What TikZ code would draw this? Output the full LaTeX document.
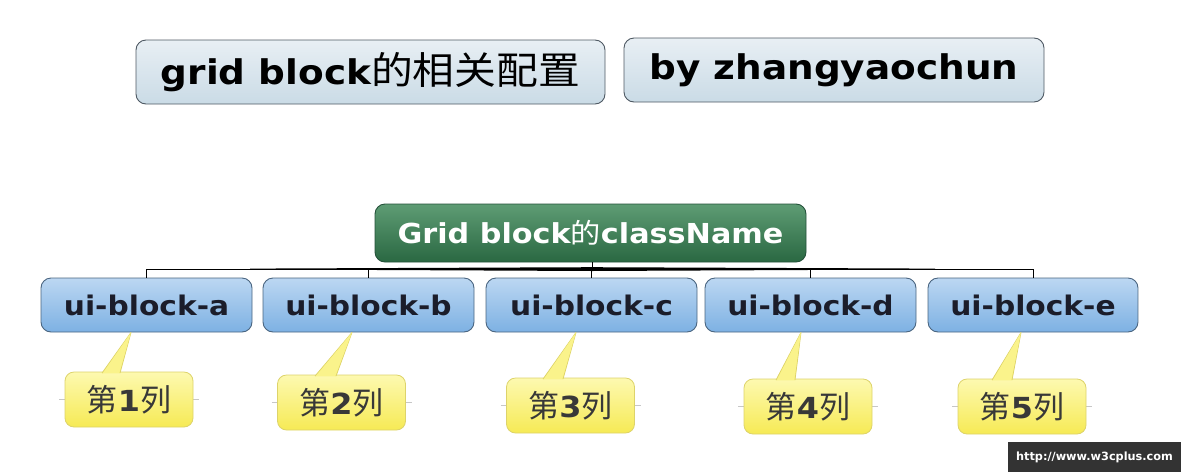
\documentclass[tikz,border=0pt]{standalone}
\usepackage{fontspec}
\setmainfont{DejaVu Sans}[FakeStretch=1.1]
\newfontfamily\cjk{Noto Sans CJK SC}[FakeStretch=1.1]
\newfontfamily\cjkn{Noto Sans CJK SC}
\newfontfamily\wmfont{DejaVu Sans}
\usetikzlibrary{calc}
\definecolor{titletop}{HTML}{E8EFF4}
\definecolor{titlebot}{HTML}{CADBE6}
\definecolor{titleedge}{HTML}{4E5963}
\definecolor{roottop}{HTML}{5E9C74}
\definecolor{rootbot}{HTML}{2A6842}
\definecolor{rootedge}{HTML}{24513A}
\definecolor{bluetop}{HTML}{BCD7F2}
\definecolor{bluebot}{HTML}{7DB1E3}
\definecolor{blueedge}{HTML}{4A6580}
\definecolor{bluetext}{HTML}{1B1D2A}
\definecolor{yeltop}{HTML}{FDF9B0}
\definecolor{yelbot}{HTML}{F6EA55}
\definecolor{yeledge}{HTML}{DDD36A}
\definecolor{yeltext}{HTML}{383838}
\definecolor{wmbg}{HTML}{333333}
\tikzset{
  titlebox/.style={rounded corners=10pt, draw=titleedge, line width=0.9pt,
    top color=titletop, bottom color=titlebot, inner sep=0pt,
    minimum height=64pt, font=\fontsize{34}{34}\selectfont\bfseries, text=black},
  rootbox/.style={rounded corners=10pt, draw=rootedge, line width=0.9pt,
    top color=roottop, bottom color=rootbot, inner sep=0pt,
    minimum width=431pt, minimum height=58pt, font=\fontsize{27.5}{28}\selectfont\bfseries, text=white},
  blockbox/.style={rounded corners=10pt, draw=blueedge, line width=0.9pt,
    top color=bluetop, bottom color=bluebot, inner sep=0pt,
    minimum width=211pt, minimum height=54pt, font=\fontsize{27}{27}\selectfont\bfseries, text=bluetext},
  callout/.style={rounded corners=9pt, draw=yeledge, line width=0.8pt,
    top color=yeltop, bottom color=yelbot, inner sep=0pt,
    minimum width=128pt, minimum height=55pt, font=\fontsize{29}{29}\selectfont, text=yeltext},
  pointer/.style={fill=yelbot!70!yeltop, draw=yeledge, line width=0.8pt, line join=round},
  branch/.style={draw=black, line width=0.9pt},
  guide/.style={draw=black!22, line width=0.7pt},
}
\newcommand{\cn}[1]{{\cjkn\fontsize{31}{30}\selectfont #1}}
\begin{document}
\begin{tikzpicture}[x=1pt,y=-1pt]
\useasboundingbox (0,0) rectangle (1181,472);

% title boxes
\node[titlebox, minimum width=469pt] (t1) at (370.5,72) {grid block{\cjk\fontsize{38}{38}\selectfont\mdseries 的相关配置}};
\node[titlebox, minimum width=420pt] (t2) at (834,70) {by zhangyaochun};

% root
\node[rootbox] (root) at (590.5,233) {Grid block{\cjk\mdseries 的}className};

% blocks
\node[blockbox] (a) at (146.5,305) {ui-block-a};
\node[blockbox] (b) at (368.5,305) {ui-block-b};
\node[blockbox] (c) at (591.5,305) {ui-block-c};
\node[blockbox] (d) at (810.5,305) {ui-block-d};
\node[blockbox, minimum width=210pt] (e) at (1033,305) {ui-block-e};

% connectors
\coordinate (bus) at (592,269);
\draw[branch] (root.south -| bus) -- (bus);
\draw[branch] (bus) -| (a.north);
\draw[branch] (bus) -| (b.north);
\draw[branch] (bus) -| (c.north);
\draw[branch] (bus) -| (d.north);
\draw[branch] (bus) -| (e.north);
\fill[black] (250,268.6) -- (592,267.2) -- (935,268.6) -- (935,269.4) -- (592,271) -- (250,269.4) -- cycle;

% callout guide lines
\foreach \x/\y in {129/399.5, 341.5/402.5, 570.5/405.5, 808/406.5, 1022/406.5}{
  \draw[guide] (\x-70,\y) -- (\x+70,\y);
}

% callouts
\node[callout] (c1) at (129,399.5) {\cn{第}\textbf{1}\cn{列}};
\node[callout] (c2) at (341.5,402.5) {\cn{第}\textbf{2}\cn{列}};
\node[callout] (c3) at (570.5,405.5) {\cn{第}\textbf{3}\cn{列}};
\node[callout] (c4) at (808,406.5) {\cn{第}\textbf{4}\cn{列}};
\node[callout] (c5) at (1022,406.5) {\cn{第}\textbf{5}\cn{列}};

% pointers
\path[pointer] ($(102,0 |- c1.north)+(0,1.5)$) -- (131,0 |- a.south) -- ($(120,0 |- c1.north)+(0,1.5)$);
\fill[yeltop!60!yelbot] ($(102.8,0 |- c1.north)+(0,1.6)$) -- (131,0 |- a.south) -- ($(119.2,0 |- c1.north)+(0,1.6)$) -- cycle;
\path[pointer] ($(315,0 |- c2.north)+(0,1.5)$) -- (352,0 |- b.south) -- ($(336,0 |- c2.north)+(0,1.5)$);
\fill[yeltop!60!yelbot] ($(315.8,0 |- c2.north)+(0,1.6)$) -- (352,0 |- b.south) -- ($(335.2,0 |- c2.north)+(0,1.6)$) -- cycle;
\path[pointer] ($(543,0 |- c3.north)+(0,1.5)$) -- (576,0 |- c.south) -- ($(563,0 |- c3.north)+(0,1.5)$);
\fill[yeltop!60!yelbot] ($(543.8,0 |- c3.north)+(0,1.6)$) -- (576,0 |- c.south) -- ($(562.2,0 |- c3.north)+(0,1.6)$) -- cycle;
\path[pointer] ($(776,0 |- c4.north)+(0,1.5)$) -- (801,0 |- d.south) -- ($(795,0 |- c4.north)+(0,1.5)$);
\fill[yeltop!60!yelbot] ($(776.8,0 |- c4.north)+(0,1.6)$) -- (801,0 |- d.south) -- ($(794.2,0 |- c4.north)+(0,1.6)$) -- cycle;
\path[pointer] ($(992,0 |- c5.north)+(0,1.5)$) -- (1021,0 |- e.south) -- ($(1012,0 |- c5.north)+(0,1.5)$);
\fill[yeltop!60!yelbot] ($(992.8,0 |- c5.north)+(0,1.6)$) -- (1021,0 |- e.south) -- ($(1011.2,0 |- c5.north)+(0,1.6)$) -- cycle;

% watermark
\node[fill=wmbg, text=white, inner sep=0pt, minimum width=173pt, minimum height=30pt,
  font=\wmfont\fontsize{11.3}{12}\selectfont\bfseries] (wm) at (1094.5,457) {http://www.w3cplus.com};
\end{tikzpicture}
\end{document}
